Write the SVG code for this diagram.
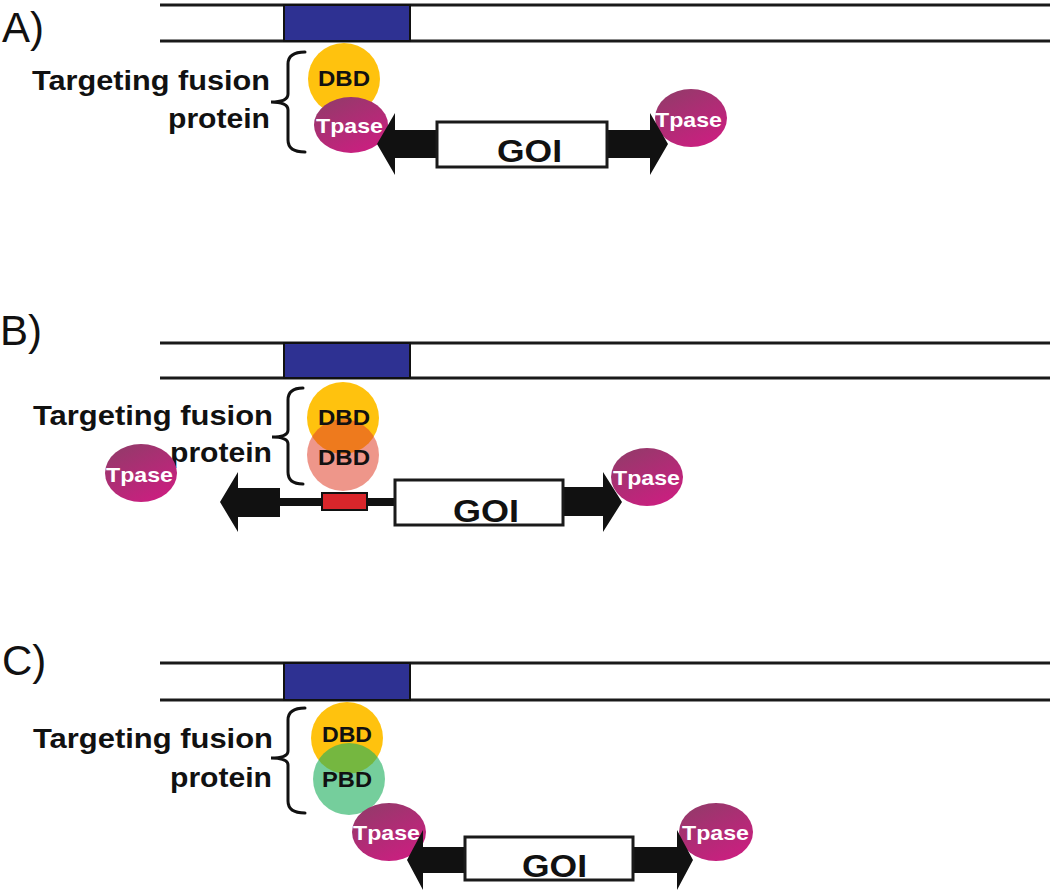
<svg xmlns="http://www.w3.org/2000/svg" width="1050" height="891" viewBox="0 0 1050 891">
<defs>
<linearGradient id="tp" x1="0" y1="0" x2="0.6" y2="1">
<stop offset="0" stop-color="#8e3d68"/>
<stop offset="1" stop-color="#c8207f"/>
</linearGradient>
<style>
.lbl{font-family:"Liberation Sans",Arial,sans-serif;font-size:42px;fill:#111}
.tf{font-family:"Liberation Sans",Arial,sans-serif;font-size:27px;font-weight:bold;fill:#111}
.dbd{font-family:"Liberation Sans",Arial,sans-serif;font-size:22px;font-weight:bold;fill:#111}
.tps{font-family:"Liberation Sans",Arial,sans-serif;font-size:21px;font-weight:bold;fill:#fff}
.goi{font-family:"Liberation Sans",Arial,sans-serif;font-size:31px;font-weight:bold;fill:#111}
.dna{stroke:#1a1a1a;stroke-width:3;fill:none}
.site{fill:#2e3192;stroke:#111;stroke-width:2}
.brace{stroke:#111;stroke-width:3;fill:none;stroke-linecap:round}
.yel{fill:#ffc20e}
.red{fill:#e0402a;fill-opacity:0.55}
.grn{fill:#20b060;fill-opacity:0.62}
.tpase{fill:url(#tp)}
.box{fill:#fff;stroke:#1a1a1a;stroke-width:3}
.arr{fill:#111}
</style>
</defs>
<rect width="1050" height="891" fill="#fff"/>

<!-- Panel A -->
<g id="panelA-dna">
<text class="lbl" x="2" y="42">A)</text>
<line class="dna" x1="160" y1="5" x2="1050" y2="5"/>
<line class="dna" x1="160" y1="41" x2="1050" y2="41"/>
<rect class="site" x="284" y="5" width="126" height="36"/>
</g>
<g id="panelA-label">
<text class="tf" x="32" y="90" textLength="238" lengthAdjust="spacingAndGlyphs">Targeting fusion</text>
<text class="tf" x="168" y="128" textLength="102" lengthAdjust="spacingAndGlyphs">protein</text>
<path class="brace" d="M305 52 Q288 52 288 64 L288 94 Q288 102 271 102 Q288 102 288 110 L288 140 Q288 152 305 152"/>
</g>
<g id="panelA-dbd">
<circle class="yel" cx="344" cy="79" r="36"/>
<text class="dbd" x="318" y="86" textLength="52" lengthAdjust="spacingAndGlyphs">DBD</text>
</g>
<g id="panelA-tpase1">
<ellipse class="tpase" cx="351" cy="125" rx="37" ry="28"/>
<text class="tps" x="316" y="133" textLength="67" lengthAdjust="spacingAndGlyphs">Tpase</text>
</g>
<g id="panelA-tpase2">
<ellipse class="tpase" cx="691" cy="118" rx="36" ry="29"/>
<text class="tps" x="655" y="127" textLength="67" lengthAdjust="spacingAndGlyphs">Tpase</text>
</g>
<g id="panelA-transposon">
<polygon class="arr" points="377,144 395,113 395,130 437,130 437,158 395,158 395,175"/>
<polygon class="arr" points="607,130 650,130 650,113 668,144 650,175 650,158 607,158"/>
<rect class="box" x="437" y="122" width="170" height="45"/>
<text class="goi" x="497" y="162" textLength="65" lengthAdjust="spacingAndGlyphs">GOI</text>
</g>

<!-- Panel B -->
<g id="panelB-dna">
<text class="lbl" x="0" y="345">B)</text>
<line class="dna" x1="160" y1="343" x2="1050" y2="343"/>
<line class="dna" x1="160" y1="378" x2="1050" y2="378"/>
<rect class="site" x="284" y="343" width="126" height="35"/>
</g>
<g id="panelB-label">
<text class="tf" x="33" y="425" textLength="240" lengthAdjust="spacingAndGlyphs">Targeting fusion</text>
<text class="tf" x="170" y="462" textLength="102" lengthAdjust="spacingAndGlyphs">protein</text>
<path class="brace" d="M303 388 Q288 388 288 400 L288 430 Q288 437 272 437 Q288 437 288 444 L288 472 Q288 484 303 484"/>
</g>
<g id="panelB-dbd1">
<circle class="yel" cx="343" cy="418" r="36"/>
</g>
<g id="panelB-dbd2">
<circle class="red" cx="343" cy="455" r="36"/>
<text class="dbd" x="318" y="425" textLength="52" lengthAdjust="spacingAndGlyphs">DBD</text>
<text class="dbd" x="318" y="465" textLength="52" lengthAdjust="spacingAndGlyphs">DBD</text>
</g>
<g id="panelB-tpase1">
<ellipse class="tpase" cx="141" cy="473" rx="36" ry="29"/>
<text class="tps" x="106" y="482" textLength="67" lengthAdjust="spacingAndGlyphs">Tpase</text>
</g>
<g id="panelB-tpase2">
<ellipse class="tpase" cx="647" cy="477" rx="36" ry="29"/>
<text class="tps" x="613" y="485" textLength="67" lengthAdjust="spacingAndGlyphs">Tpase</text>
</g>
<g id="panelB-transposon">
<line x1="278" y1="502" x2="396" y2="502" stroke="#111" stroke-width="8"/>
<rect x="322" y="493" width="45" height="17" fill="#d9262b" stroke="#111" stroke-width="2"/>
<polygon class="arr" points="220,502 238,472 238,488 280,488 280,517 238,517 238,532"/>
<polygon class="arr" points="563,487 603,487 603,472 622,502 603,532 603,516 563,516"/>
<rect class="box" x="395" y="480" width="168" height="45"/>
<text class="goi" x="453" y="522" textLength="66" lengthAdjust="spacingAndGlyphs">GOI</text>
</g>

<!-- Panel C -->
<g id="panelC-dna">
<text class="lbl" x="2" y="675">C)</text>
<line class="dna" x1="160" y1="663" x2="1050" y2="663"/>
<line class="dna" x1="160" y1="700" x2="1050" y2="700"/>
<rect class="site" x="284" y="663" width="126" height="37"/>
</g>
<g id="panelC-label">
<text class="tf" x="33" y="748" textLength="240" lengthAdjust="spacingAndGlyphs">Targeting fusion</text>
<text class="tf" x="170" y="787" textLength="102" lengthAdjust="spacingAndGlyphs">protein</text>
<path class="brace" d="M305 708 Q288 708 288 720 L288 751 Q288 758 271 758 Q288 758 288 765 L288 801 Q288 813 305 813"/>
</g>
<g id="panelC-dbd">
<circle class="yel" cx="347" cy="738" r="36"/>
</g>
<g id="panelC-pbd">
<circle class="grn" cx="349" cy="779" r="36"/>
<text class="dbd" x="322" y="742" textLength="50" lengthAdjust="spacingAndGlyphs">DBD</text>
<text class="dbd" x="322" y="787" textLength="50" lengthAdjust="spacingAndGlyphs">PBD</text>
</g>
<g id="panelC-tpase1">
<ellipse class="tpase" cx="389" cy="832" rx="37" ry="29"/>
<text class="tps" x="353" y="840" textLength="67" lengthAdjust="spacingAndGlyphs">Tpase</text>
</g>
<g id="panelC-tpase2">
<ellipse class="tpase" cx="716" cy="832" rx="37" ry="29"/>
<text class="tps" x="682" y="840" textLength="67" lengthAdjust="spacingAndGlyphs">Tpase</text>
</g>
<g id="panelC-transposon">
<polygon class="arr" points="407,860 423,830 423,847 465,847 465,873 423,873 423,890"/>
<polygon class="arr" points="633,847 677,847 677,830 693,860 677,890 677,873 633,873"/>
<rect class="box" x="465" y="837" width="168" height="43"/>
<text class="goi" x="522" y="877" textLength="65" lengthAdjust="spacingAndGlyphs">GOI</text>
</g>
</svg>
